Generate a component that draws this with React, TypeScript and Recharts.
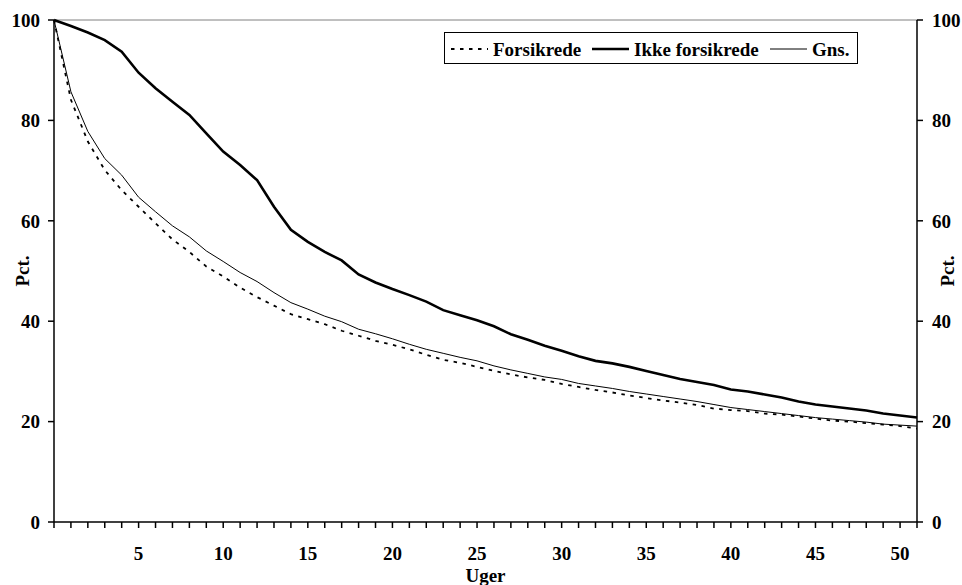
import React from "react";
import { LineChart, Line, XAxis, YAxis, ReferenceLine } from "recharts";

// uger 0..51
const weeks = [
  0, 1, 2, 3, 4, 5, 6, 7, 8, 9, 10, 11, 12, 13, 14, 15, 16, 17, 18, 19, 20, 21, 22, 23, 24, 25,
  26, 27, 28, 29, 30, 31, 32, 33, 34, 35, 36, 37, 38, 39, 40, 41, 42, 43, 44, 45, 46, 47, 48, 49, 50, 51,
];

const forsikrede = [
  100, 84.1, 75.8, 70.1, 66.1, 62.8, 59.5, 56.3, 53.8, 50.9, 48.9, 46.7, 44.8, 43.1, 41.4, 40.4, 39.4,
  38.1, 37.1, 36.1, 35.3, 34.4, 33.3, 32.3, 31.7, 30.9, 30.1, 29.4, 28.8, 28.3, 27.5, 26.9, 26.3, 25.8,
  25.2, 24.7, 24.2, 23.8, 23.3, 22.6, 22.3, 22.1, 21.6, 21.4, 21.0, 20.6, 20.2, 20.0, 19.7, 19.4, 19.1, 18.6,
];

const ikkeForsikrede = [
  100, 98.8, 97.5, 96.0, 93.7, 89.5, 86.4, 83.7, 81.1, 77.4, 73.8, 71.1, 68.1, 62.8, 58.2, 55.8, 53.8,
  52.1, 49.3, 47.7, 46.4, 45.2, 43.9, 42.2, 41.2, 40.2, 39.0, 37.4, 36.3, 35.1, 34.1, 33.0, 32.1, 31.6,
  30.9, 30.1, 29.3, 28.5, 27.9, 27.3, 26.4, 26.0, 25.4, 24.8, 24.0, 23.4, 23.0, 22.6, 22.2, 21.6, 21.2, 20.8,
];

const gns = [
  100, 85.7, 77.8, 72.4, 69.1, 64.7, 61.8, 59.0, 56.8, 54.0, 51.9, 49.7, 47.9, 45.7, 43.7, 42.4, 41.0,
  39.9, 38.4, 37.5, 36.5, 35.4, 34.4, 33.6, 32.8, 32.1, 31.1, 30.3, 29.6, 28.9, 28.4, 27.6, 27.1, 26.6,
  26.0, 25.5, 25.0, 24.5, 24.0, 23.4, 22.8, 22.4, 22.0, 21.6, 21.2, 20.8, 20.5, 20.2, 19.9, 19.5, 19.3, 19.1,
];

const yTicks = [0, 20, 40, 60, 80, 100];

const data = weeks.map((w, i) => ({
  week: w,
  forsikrede: forsikrede[i],
  ikke: ikkeForsikrede[i],
  gns: gns[i],
}));

const FONT = '"Liberation Serif", "Times New Roman", serif';
const txt = { fontFamily: FONT, fontWeight: 700, fontSize: 19, fill: "#000" };

const legendItems = [
  { name: "Forsikrede", width: 1.8, dash: "3.5 5.5" },
  { name: "Ikke forsikrede", width: 2.6, dash: undefined },
  { name: "Gns.", width: 1, dash: undefined },
];

// legend box drawn on top of the chart
function ChartLegend() {
  const widths = [89, 126, 39];
  let x = 7;
  return (
    <svg width={414} height={32} style={{ position: "absolute", left: 444, top: 32, display: "block" }}>
      <rect x={0.5} y={0.5} width={413} height={31} fill="#fff" stroke="#000" strokeWidth={1} />
      {legendItems.map((it, i) => {
        const x0 = x;
        x += 37 + 5 + widths[i] + 10;
        return (
          <g key={it.name}>
            <line x1={x0} x2={x0 + 37} y1={17} y2={17} stroke="#000" strokeWidth={it.width} strokeDasharray={it.dash} />
            <text x={x0 + 42} y={17} dominantBaseline="central" style={txt}>
              {it.name}
            </text>
          </g>
        );
      })}
    </svg>
  );
}

function PctLabel({ viewBox, dx }: any) {
  const cx = viewBox.x + dx;
  const cy = viewBox.y + viewBox.height / 2;
  return (
    <text x={cx} y={cy} textAnchor="middle" dominantBaseline="central" transform={`rotate(-90, ${cx}, ${cy})`} style={txt}>
      Pct.
    </text>
  );
}

export default function App() {
  return (
    <div style={{ position: "absolute", left: 0, top: 0, width: 962, height: 585, background: "#fff" }}>
      <LineChart width={962} height={585} data={data} margin={{ top: 20, right: 8, bottom: 0, left: 8 }}>
        <XAxis
          dataKey="week"
          type="number"
          domain={[0, 51]}
          ticks={weeks}
          interval={0}
          tickFormatter={(v: number) => (v > 0 && v % 5 === 0 ? String(v) : "")}
          tickSize={6}
          tickMargin={19}
          height={63}
          stroke="#000"
          strokeWidth={1.5}
          tick={txt}
          label={{ value: "Uger", position: "insideBottom", offset: 3, style: txt }}
        />
        <YAxis
          yAxisId="left"
          domain={[0, 100]}
          ticks={yTicks}
          width={46}
          tickSize={6}
          tickMargin={8}
          stroke="#000"
          strokeWidth={1.5}
          tick={txt}
          label={<PctLabel dx={14} />}
        />
        <YAxis
          yAxisId="right"
          orientation="right"
          domain={[0, 100]}
          ticks={yTicks}
          width={37}
          tickSize={6}
          tickMargin={9}
          stroke="#000"
          strokeWidth={1.5}
          tick={{ ...txt, textAnchor: "start" }}
          label={<PctLabel dx={30} />}
        />
        <ReferenceLine yAxisId="left" y={100} stroke="#808080" strokeWidth={1} />
        <Line yAxisId="right" dataKey="gns" name="Gns." stroke="#000" strokeWidth={1} dot={false} isAnimationActive={false} />
        <Line
          yAxisId="left"
          dataKey="forsikrede"
          name="Forsikrede"
          stroke="#000"
          strokeWidth={1.8}
          strokeDasharray="3.5 5.5"
          dot={false}
          isAnimationActive={false}
        />
        <Line yAxisId="left" dataKey="ikke" name="Ikke forsikrede" stroke="#000" strokeWidth={2.6} dot={false} isAnimationActive={false} />
      </LineChart>
      <ChartLegend />
    </div>
  );
}
